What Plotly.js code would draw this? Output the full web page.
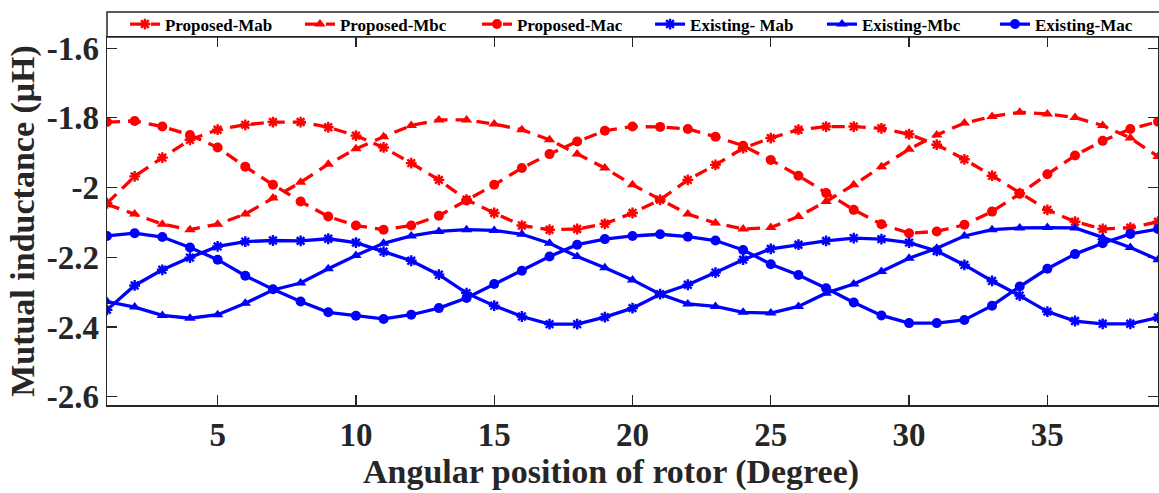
<!DOCTYPE html>
<html>
<head>
<meta charset="utf-8">
<script src="https://cdn.plot.ly/plotly-3.0.1.min.js"></script>
<style>html,body{margin:0;padding:0;background:#fff;}#chart{width:1159px;height:493px;}</style>
</head>
<body>
<div id="chart"></div>
<script>
const angle = Array.from({length: 39}, (_, i) => i + 1);

const proposedMab = [-2.045,-1.968,-1.914,-1.863,-1.834,-1.820,-1.812,-1.812,-1.827,-1.851,
  -1.885,-1.930,-1.978,-2.035,-2.073,-2.109,-2.121,-2.119,-2.104,-2.073,
  -2.035,-1.978,-1.935,-1.887,-1.858,-1.834,-1.825,-1.825,-1.830,-1.847,
  -1.877,-1.919,-1.966,-2.016,-2.064,-2.098,-2.119,-2.115,-2.098];
const proposedMbc = [-2.048,-2.076,-2.105,-2.121,-2.105,-2.076,-2.030,-1.985,-1.933,-1.889,
  -1.854,-1.822,-1.806,-1.806,-1.818,-1.834,-1.863,-1.904,-1.944,-1.992,
  -2.035,-2.076,-2.102,-2.119,-2.115,-2.083,-2.040,-1.992,-1.940,-1.890,
  -1.849,-1.815,-1.796,-1.784,-1.789,-1.799,-1.822,-1.858,-1.911];
const proposedMac = [-1.812,-1.809,-1.825,-1.849,-1.885,-1.940,-1.992,-2.040,-2.083,-2.109,
  -2.121,-2.109,-2.081,-2.037,-1.992,-1.944,-1.904,-1.868,-1.837,-1.825,
  -1.826,-1.832,-1.854,-1.880,-1.921,-1.966,-2.016,-2.064,-2.105,-2.131,
  -2.126,-2.107,-2.069,-2.018,-1.962,-1.908,-1.866,-1.832,-1.811];
const existingMab = [-2.351,-2.281,-2.236,-2.201,-2.169,-2.155,-2.152,-2.153,-2.147,-2.158,
  -2.184,-2.210,-2.250,-2.303,-2.339,-2.370,-2.392,-2.392,-2.372,-2.346,
  -2.306,-2.279,-2.244,-2.207,-2.176,-2.164,-2.153,-2.145,-2.148,-2.158,
  -2.182,-2.222,-2.268,-2.310,-2.356,-2.383,-2.391,-2.391,-2.373];
const existingMbc = [-2.327,-2.343,-2.367,-2.375,-2.365,-2.332,-2.294,-2.274,-2.233,-2.195,
  -2.160,-2.139,-2.126,-2.121,-2.123,-2.134,-2.160,-2.198,-2.230,-2.265,
  -2.306,-2.334,-2.341,-2.358,-2.360,-2.341,-2.303,-2.277,-2.241,-2.203,
  -2.174,-2.139,-2.121,-2.116,-2.115,-2.116,-2.143,-2.172,-2.207];
const existingMac = [-2.139,-2.131,-2.142,-2.172,-2.207,-2.253,-2.292,-2.327,-2.358,-2.368,
  -2.377,-2.365,-2.346,-2.317,-2.277,-2.239,-2.198,-2.164,-2.148,-2.139,
  -2.134,-2.141,-2.152,-2.179,-2.220,-2.251,-2.289,-2.330,-2.367,-2.389,
  -2.389,-2.380,-2.339,-2.284,-2.233,-2.191,-2.160,-2.133,-2.119];

const seriesNames = ['Proposed-Mab','Proposed-Mbc','Proposed-Mac','Existing- Mab','Existing-Mbc','Existing-Mac'];
const xTickVals = [5,10,15,20,25,30,35];
const xTickText = ['5','10','15','20','25','30','35'];
const yTickVals = [-2.6,-2.4,-2.2,-2,-1.8,-1.6];
const yTickText = ['-2.6','-2.4','-2.2','-2','-1.8','-1.6'];
const xTitle = 'Angular position of rotor (Degree)';
const yTitle = 'Mutual inductance (μH)';

const RED = '#ff0000', BLUE = '#0000ff';
const legendIds = ['legend','legend2','legend3','legend4','legend5','legend6'];
function tr(i, y, color, dash, symbol) {
  const isX = symbol === 'asterisk-open';
  return {
    x: angle, y: y, name: seriesNames[i], type: 'scatter', mode: 'lines+markers',
    legend: legendIds[i],
    line: {color: color, width: 3.3, dash: dash},
    marker: {symbol: symbol, size: isX ? 9 : 10, color: color,
             line: {color: color, width: isX ? 2.4 : 0}}
  };
}
const D = '13px,8px';
const data = [
  tr(0, proposedMab, RED, D, 'asterisk-open'),
  tr(1, proposedMbc, RED, D, 'triangle-up'),
  tr(2, proposedMac, RED, D, 'circle'),
  tr(3, existingMab, BLUE, 'solid', 'asterisk-open'),
  tr(4, existingMbc, BLUE, 'solid', 'triangle-up'),
  tr(5, existingMac, BLUE, 'solid', 'circle')
];

const FONT = "'Liberation Serif', 'Times New Roman', serif";
const AX = '#262626';
const legendX = [0.0171, 0.1836, 0.352, 0.5167, 0.6803, 0.8449];
const layout = {
  width: 1159, height: 493,
  margin: {l: 107, r: 1, t: 37, b: 88},
  paper_bgcolor: '#fff', plot_bgcolor: '#fff',
  font: {family: FONT, color: AX},
  showlegend: true,
  xaxis: {range: [1, 39], tickvals: xTickVals, ticktext: xTickText, ticks: 'inside', ticklen: 10,
          tickwidth: 1.2, tickcolor: AX, showline: true, linecolor: AX, linewidth: 1.5, mirror: 'ticks',
          showgrid: false, zeroline: false,
          tickfont: {family: FONT, size: 33, color: AX, weight: 'bold'}},
  yaxis: {range: [-2.624, -1.568], tickvals: yTickVals, ticktext: yTickText, ticks: 'inside', ticklen: 10,
          tickwidth: 1.2, tickcolor: AX, showline: true, linecolor: AX, linewidth: 1.5, mirror: 'ticks',
          showgrid: false, zeroline: false,
          tickfont: {family: FONT, size: 33, color: AX, weight: 'bold'},
          title: {text: yTitle, standoff: 2,
                  font: {family: FONT, size: 34, color: AX, weight: 'bold'}}},
  annotations: [{text: xTitle, xref: 'paper', yref: 'paper', x: 0.4795, y: -0.182,
                 xanchor: 'center', yanchor: 'middle', showarrow: false,
                 font: {family: FONT, size: 34, color: AX, weight: 'bold'}}],
  shapes: [{type: 'rect', xref: 'paper', yref: 'paper', x0: 0, x1: 1.002, y0: 1, y1: 1.068,
            line: {color: AX, width: 1.5}, fillcolor: 'rgba(0,0,0,0)'}]
};
legendIds.forEach((id, i) => {
  layout[id] = {orientation: 'h', x: legendX[i], xanchor: 'left', y: 1.034, yanchor: 'middle',
    bgcolor: 'rgba(0,0,0,0)', borderwidth: 0, itemwidth: 30,
    font: {family: FONT, size: 17, color: '#000', weight: 'bold'}};
});
Plotly.newPlot('chart', data, layout, {displayModeBar: false, staticPlot: true});
</script>
</body>
</html>
